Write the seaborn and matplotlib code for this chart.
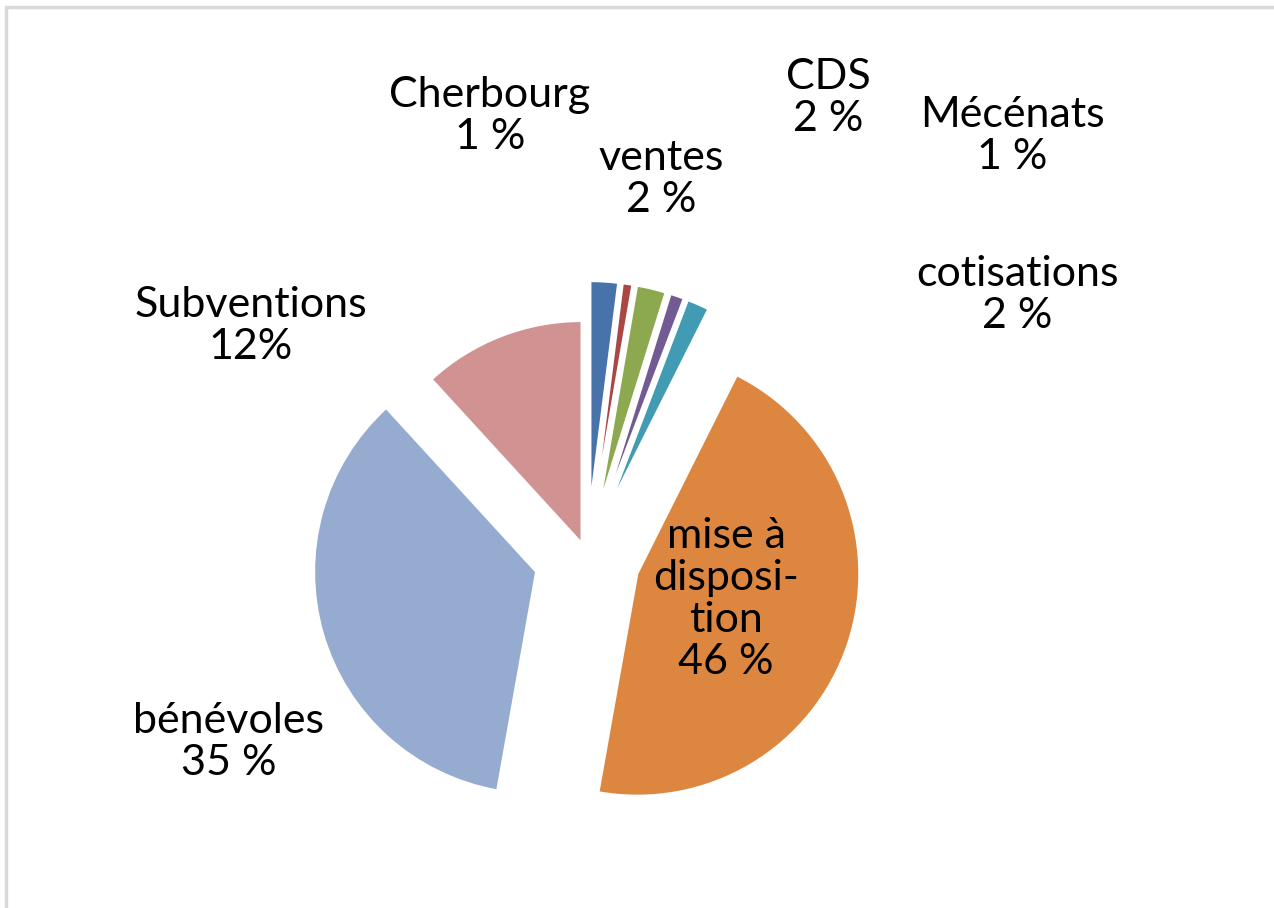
import matplotlib
matplotlib.use("Agg")
import matplotlib.pyplot as plt
import matplotlib.patches as mpatches
import seaborn as sns

# --- données ---
categories = ['CDS', 'Cherbourg', 'ventes', 'Mécénats', 'cotisations',
              'mise à disposition', 'bénévoles', 'Subventions']
valeurs = [2.0, 0.7, 2.1, 1.0, 1.6, 45.4, 35.4, 11.8]
etiquettes = ['CDS\n2 %', 'Cherbourg\n1 %', 'ventes\n2 %', 'Mécénats\n1 %',
              'cotisations\n2 %', 'mise à\ndisposi-\ntion\n46 %',
              'bénévoles\n35 %', 'Subventions\n12%']
couleurs = ['#4773AA', '#AA4744', '#8CA94F', '#725A92', '#419BB2',
            '#DC8640', '#95ABCF', '#D09392']

# décalage des parts (en pixels, le rayon vaut 222)
ecarts = [54, 54, 54, 54, 54, 53, 53, 15]

# positions des étiquettes (pixels, origine en bas à gauche)
pos_etiquettes = [(828, 810), (490, 792), (661, 729), (1012, 772),
                  (1017, 613), (726, 309), (229, 166), (251, 582)]

sns.set_theme(style="white")
plt.rcParams['font.family'] = ['Lato', 'DejaVu Sans']

fig = plt.figure(figsize=(12.74, 9.08), dpi=100)
ax = fig.add_axes([0, 0, 1, 1])

ax.pie(valeurs, colors=couleurs, explode=ecarts, startangle=90,
       counterclock=False, radius=222, center=(587, 351),
       wedgeprops=dict(edgecolor='white', linewidth=1.5), frame=False)
ax.set_xlim(0, 1274)
ax.set_ylim(0, 908)
ax.set_aspect('equal')
ax.axis('off')

for txt, (x, y) in zip(etiquettes, pos_etiquettes):
    ax.text(x, y, txt, ha='center', va='center', fontsize=31,
            color='black', linespacing=1.12, multialignment='center')

# cadre gris clair
fig.patches.append(mpatches.Rectangle((6 / 1274, -0.1), 1.2, (901 / 908) + 0.1,
                                      transform=fig.transFigure, fill=False,
                                      edgecolor='#D9D9D9', linewidth=2.5))

fig.savefig('out.png', dpi=100)
